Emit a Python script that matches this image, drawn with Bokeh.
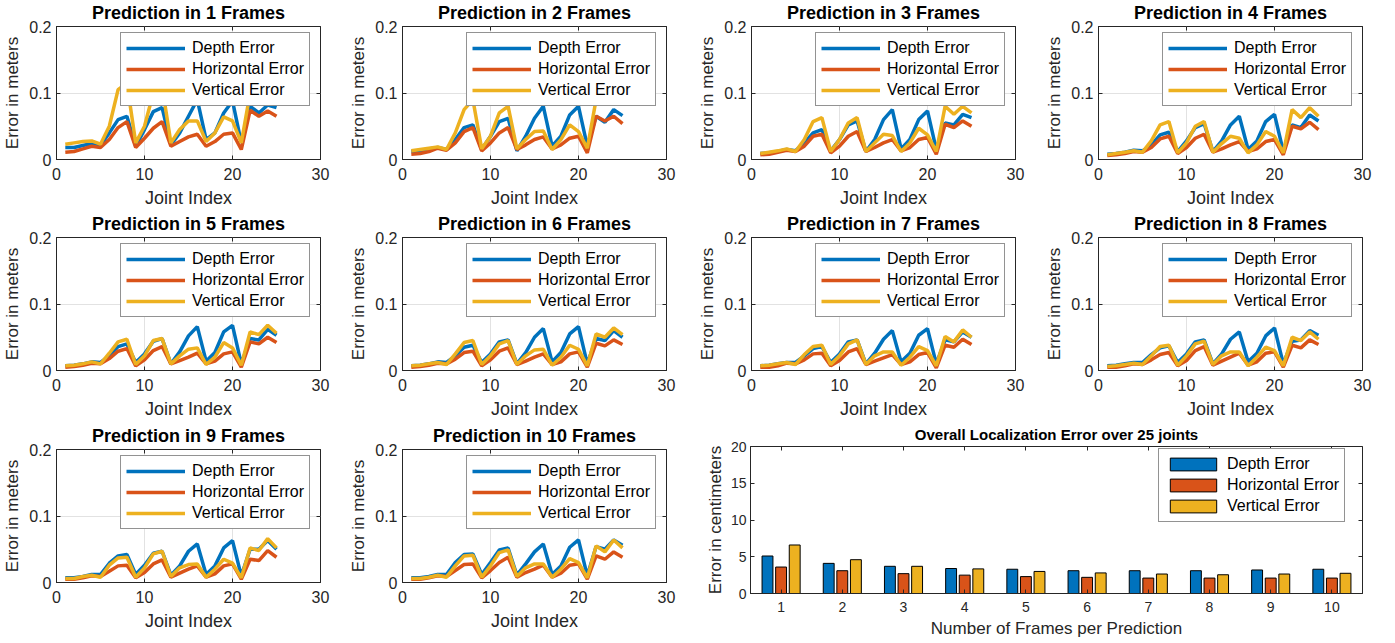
from bokeh.plotting import figure
from bokeh.layouts import row, column
from bokeh.models import (LinearAxis, FixedTicker, Legend, LegendItem, Range1d,
                          ColumnDataSource, CustomLabelingPolicy)
from bokeh.transform import dodge
from bokeh.embed import file_html
from bokeh.resources import INLINE

# ---------------- data ----------------
joints = list(range(1, 26))

depth_f1 = [0.018, 0.018, 0.021, 0.024, 0.021, 0.040, 0.060, 0.065, 0.020, 0.045, 0.072, 0.078, 0.022,
            0.040, 0.065, 0.090, 0.030, 0.040, 0.070, 0.088, 0.025, 0.080, 0.070, 0.082, 0.078]
horiz_f1 = [0.011, 0.012, 0.016, 0.020, 0.018, 0.030, 0.048, 0.057, 0.018, 0.032, 0.047, 0.057, 0.020,
            0.027, 0.034, 0.038, 0.020, 0.027, 0.038, 0.040, 0.015, 0.074, 0.065, 0.073, 0.065]
vert_f1 = [0.023, 0.025, 0.027, 0.028, 0.023, 0.050, 0.105, 0.115, 0.025, 0.050, 0.100, 0.110, 0.025,
           0.045, 0.058, 0.058, 0.027, 0.040, 0.064, 0.058, 0.025, 0.100, 0.090, 0.100, 0.090]

depth_f2 = [0.012, 0.013, 0.016, 0.018, 0.015, 0.030, 0.048, 0.052, 0.015, 0.035, 0.057, 0.062, 0.013,
            0.035, 0.062, 0.080, 0.020, 0.035, 0.067, 0.080, 0.020, 0.065, 0.056, 0.075, 0.066]
horiz_f2 = [0.008, 0.009, 0.012, 0.017, 0.014, 0.025, 0.042, 0.048, 0.013, 0.025, 0.040, 0.048, 0.015,
            0.022, 0.030, 0.034, 0.016, 0.022, 0.032, 0.035, 0.010, 0.065, 0.058, 0.065, 0.054]
vert_f2 = [0.013, 0.015, 0.017, 0.019, 0.015, 0.040, 0.075, 0.090, 0.016, 0.035, 0.070, 0.080, 0.016,
           0.030, 0.042, 0.043, 0.015, 0.030, 0.052, 0.042, 0.017, 0.090, 0.085, 0.090, 0.085]

depth_f3 = [0.009, 0.010, 0.012, 0.015, 0.013, 0.025, 0.040, 0.045, 0.013, 0.030, 0.052, 0.058, 0.012,
            0.030, 0.060, 0.075, 0.016, 0.030, 0.060, 0.073, 0.015, 0.055, 0.052, 0.068, 0.063]
horiz_f3 = [0.007, 0.008, 0.011, 0.014, 0.012, 0.020, 0.035, 0.038, 0.010, 0.020, 0.035, 0.042, 0.012,
            0.018, 0.025, 0.030, 0.013, 0.018, 0.030, 0.033, 0.008, 0.053, 0.048, 0.058, 0.050]
vert_f3 = [0.009, 0.011, 0.013, 0.016, 0.012, 0.030, 0.057, 0.063, 0.012, 0.030, 0.055, 0.063, 0.012,
           0.025, 0.038, 0.036, 0.012, 0.025, 0.047, 0.037, 0.012, 0.080, 0.068, 0.080, 0.070]

depth_f4 = [0.008, 0.009, 0.011, 0.014, 0.013, 0.022, 0.037, 0.041, 0.012, 0.028, 0.048, 0.054, 0.012,
            0.028, 0.052, 0.065, 0.015, 0.028, 0.057, 0.068, 0.012, 0.052, 0.048, 0.067, 0.058]
horiz_f4 = [0.006, 0.007, 0.009, 0.012, 0.011, 0.018, 0.031, 0.035, 0.009, 0.018, 0.032, 0.038, 0.011,
            0.016, 0.022, 0.027, 0.012, 0.016, 0.027, 0.030, 0.007, 0.050, 0.046, 0.056, 0.045]
vert_f4 = [0.007, 0.009, 0.011, 0.013, 0.011, 0.028, 0.052, 0.057, 0.010, 0.025, 0.050, 0.057, 0.011,
           0.024, 0.035, 0.032, 0.010, 0.022, 0.042, 0.035, 0.010, 0.075, 0.063, 0.078, 0.065]

depth_f5 = [0.007, 0.008, 0.010, 0.013, 0.012, 0.022, 0.036, 0.040, 0.012, 0.025, 0.044, 0.048, 0.010,
            0.028, 0.052, 0.066, 0.014, 0.027, 0.058, 0.068, 0.010, 0.048, 0.046, 0.062, 0.053]
horiz_f5 = [0.005, 0.006, 0.008, 0.011, 0.010, 0.018, 0.029, 0.033, 0.007, 0.016, 0.030, 0.036, 0.010,
            0.015, 0.020, 0.026, 0.010, 0.014, 0.025, 0.028, 0.005, 0.043, 0.040, 0.050, 0.042]
vert_f5 = [0.007, 0.008, 0.010, 0.013, 0.010, 0.026, 0.043, 0.047, 0.009, 0.022, 0.045, 0.048, 0.010,
           0.022, 0.032, 0.034, 0.009, 0.020, 0.042, 0.034, 0.008, 0.058, 0.054, 0.068, 0.056]

depth_f6 = [0.007, 0.008, 0.010, 0.013, 0.012, 0.022, 0.035, 0.038, 0.012, 0.025, 0.043, 0.046, 0.010,
            0.027, 0.050, 0.063, 0.013, 0.027, 0.055, 0.066, 0.010, 0.048, 0.045, 0.060, 0.050]
horiz_f6 = [0.005, 0.006, 0.008, 0.011, 0.010, 0.017, 0.027, 0.029, 0.007, 0.016, 0.029, 0.034, 0.009,
            0.014, 0.020, 0.025, 0.009, 0.013, 0.025, 0.028, 0.005, 0.041, 0.037, 0.046, 0.039]
vert_f6 = [0.007, 0.008, 0.010, 0.012, 0.009, 0.025, 0.042, 0.045, 0.009, 0.022, 0.040, 0.045, 0.009,
           0.022, 0.031, 0.032, 0.008, 0.020, 0.038, 0.032, 0.007, 0.055, 0.050, 0.064, 0.054]

depth_f7 = [0.007, 0.008, 0.010, 0.012, 0.012, 0.022, 0.033, 0.036, 0.012, 0.025, 0.043, 0.046, 0.010,
            0.026, 0.047, 0.060, 0.013, 0.026, 0.053, 0.063, 0.010, 0.046, 0.043, 0.058, 0.050]
horiz_f7 = [0.005, 0.005, 0.007, 0.011, 0.010, 0.016, 0.025, 0.026, 0.007, 0.015, 0.028, 0.033, 0.009,
            0.014, 0.019, 0.024, 0.009, 0.013, 0.024, 0.027, 0.004, 0.038, 0.035, 0.047, 0.039]
vert_f7 = [0.007, 0.008, 0.010, 0.012, 0.009, 0.024, 0.036, 0.038, 0.009, 0.022, 0.040, 0.046, 0.009,
           0.022, 0.028, 0.028, 0.008, 0.020, 0.036, 0.030, 0.007, 0.051, 0.043, 0.061, 0.050]

depth_f8 = [0.007, 0.008, 0.010, 0.012, 0.012, 0.024, 0.034, 0.037, 0.012, 0.025, 0.043, 0.046, 0.010,
            0.025, 0.047, 0.058, 0.013, 0.026, 0.052, 0.064, 0.010, 0.044, 0.046, 0.060, 0.053]
horiz_f8 = [0.005, 0.005, 0.007, 0.010, 0.009, 0.016, 0.024, 0.027, 0.007, 0.015, 0.030, 0.036, 0.008,
            0.014, 0.020, 0.026, 0.008, 0.013, 0.026, 0.028, 0.005, 0.038, 0.034, 0.046, 0.039]
vert_f8 = [0.006, 0.007, 0.009, 0.011, 0.009, 0.022, 0.036, 0.038, 0.008, 0.022, 0.040, 0.044, 0.009,
           0.022, 0.028, 0.028, 0.007, 0.020, 0.035, 0.030, 0.007, 0.050, 0.045, 0.058, 0.047]

depth_f9 = [0.007, 0.007, 0.009, 0.012, 0.012, 0.029, 0.040, 0.042, 0.012, 0.026, 0.044, 0.047, 0.011,
            0.025, 0.047, 0.058, 0.012, 0.025, 0.052, 0.063, 0.010, 0.050, 0.050, 0.063, 0.050]
horiz_f9 = [0.005, 0.005, 0.007, 0.010, 0.009, 0.017, 0.025, 0.026, 0.007, 0.015, 0.028, 0.034, 0.008,
            0.014, 0.020, 0.025, 0.008, 0.013, 0.025, 0.028, 0.005, 0.035, 0.033, 0.048, 0.038]
vert_f9 = [0.006, 0.006, 0.009, 0.011, 0.008, 0.026, 0.037, 0.038, 0.008, 0.022, 0.043, 0.047, 0.009,
           0.022, 0.027, 0.028, 0.008, 0.020, 0.035, 0.029, 0.007, 0.052, 0.048, 0.066, 0.052]

depth_f10 = [0.007, 0.007, 0.009, 0.012, 0.012, 0.030, 0.042, 0.043, 0.012, 0.030, 0.049, 0.052, 0.011,
             0.028, 0.046, 0.058, 0.012, 0.025, 0.053, 0.064, 0.010, 0.054, 0.050, 0.064, 0.056]
horiz_f10 = [0.005, 0.005, 0.007, 0.010, 0.009, 0.018, 0.027, 0.028, 0.007, 0.018, 0.030, 0.038, 0.008,
             0.015, 0.020, 0.026, 0.008, 0.014, 0.026, 0.028, 0.005, 0.040, 0.035, 0.046, 0.038]
vert_f10 = [0.006, 0.006, 0.008, 0.011, 0.008, 0.025, 0.040, 0.041, 0.008, 0.025, 0.045, 0.049, 0.009,
            0.022, 0.028, 0.028, 0.008, 0.020, 0.036, 0.030, 0.007, 0.055, 0.046, 0.064, 0.052]

frames_per_prediction = [1, 2, 3, 4, 5, 6, 7, 8, 9, 10]
overall_depth_cm = [5.1, 4.1, 3.7, 3.4, 3.3, 3.1, 3.1, 3.1, 3.2, 3.3]
overall_horiz_cm = [3.6, 3.1, 2.7, 2.5, 2.3, 2.2, 2.1, 2.1, 2.1, 2.1]
overall_vert_cm = [6.6, 4.6, 3.7, 3.35, 3.0, 2.8, 2.65, 2.55, 2.65, 2.75]

series_labels = ["Depth Error", "Horizontal Error", "Vertical Error"]
x_ticks = [0, 10, 20, 30]
y_ticks = [0, 0.1, 0.2]
bar_y_ticks = [0, 5, 10, 15, 20]

# ---------------- style ----------------
COLORS = ["#0072BD", "#D95319", "#EDB120"]
FONT = "Liberation Sans"
AX = "#262626"

per_frame = [
    (depth_f1, horiz_f1, vert_f1), (depth_f2, horiz_f2, vert_f2), (depth_f3, horiz_f3, vert_f3),
    (depth_f4, horiz_f4, vert_f4), (depth_f5, horiz_f5, vert_f5), (depth_f6, horiz_f6, vert_f6),
    (depth_f7, horiz_f7, vert_f7), (depth_f8, horiz_f8, vert_f8), (depth_f9, horiz_f9, vert_f9),
    (depth_f10, horiz_f10, vert_f10),
]

FRAME_W, FRAME_H = 265, 133
# column geometry: (left border, right border)
COLS = [(55, 26), (55, 29), (55, 27), (55, 30)]
# row geometry: (top border, bottom border)
ROWS = [(26, 52), (26, 53), (26, 59)]


def style_axis(ax, tick_size, standoff, label, label_size, label_standoff):
    ax.major_tick_in = 4
    ax.major_tick_out = 0
    ax.minor_tick_in = 0
    ax.minor_tick_out = 0
    ax.axis_line_color = AX
    ax.major_tick_line_color = AX
    ax.major_label_text_font = FONT
    ax.major_label_text_font_size = tick_size
    ax.major_label_text_color = AX
    ax.major_label_text_line_height = 1.0
    ax.major_label_standoff = standoff
    ax.axis_label = label
    ax.axis_label_text_font = FONT
    ax.axis_label_text_font_size = label_size
    ax.axis_label_text_font_style = "normal"
    ax.axis_label_text_color = AX
    ax.axis_label_text_line_height = 1.0
    ax.axis_label_standoff = label_standoff


def mirror_axes(p, xt, yt):
    for ticks, side in ((yt, "right"), (xt, "above")):
        ax = LinearAxis(ticker=FixedTicker(ticks=ticks), major_label_text_font_size="1px",
                        major_label_policy=CustomLabelingPolicy(code="return []"),
                        major_tick_in=4, major_tick_out=0, minor_tick_in=0, minor_tick_out=0,
                        axis_line_color=None, major_tick_line_color=AX,
                        major_label_standoff=0, axis_label_standoff=0)
        p.add_layout(ax, side)


def style_title(p, size):
    p.title.text_font = FONT
    p.title.text_font_size = size
    p.title.text_font_style = "bold"
    p.title.text_color = "black"
    p.title.align = "center"
    p.title.standoff = 0


def style_legend(lg, glyph_w, glyph_h, standoff):
    lg.label_text_font = FONT
    lg.label_text_font_size = "16px"
    lg.label_text_color = "#000000"
    lg.glyph_width = glyph_w
    lg.glyph_height = glyph_h
    lg.label_height = 20
    lg.label_standoff = standoff
    lg.spacing = 1
    lg.padding = 5
    lg.margin = 0
    lg.border_line_color = AX
    lg.border_line_width = 1
    lg.background_fill_color = "white"
    lg.background_fill_alpha = 1.0


def line_panel(k, data, col, rw):
    bl, br = col
    bt, bb = rw
    p = figure(width=bl + FRAME_W + br, height=bt + FRAME_H + bb,
               x_range=Range1d(0, 30), y_range=Range1d(0, 0.2),
               output_backend="svg", toolbar_location=None,
               min_border_left=bl, min_border_right=br, min_border_top=bt, min_border_bottom=bb,
               title=f"Prediction in {k} Frames")
    style_title(p, "18px")
    p.outline_line_color = AX
    p.outline_line_width = 1
    p.background_fill_color = "white"
    p.border_fill_color = "white"

    xt = FixedTicker(ticks=x_ticks)
    yt = FixedTicker(ticks=y_ticks)
    p.xaxis[0].ticker = xt
    p.yaxis[0].ticker = yt
    p.xgrid[0].ticker = xt
    p.ygrid[0].ticker = yt
    p.yaxis[0].major_label_overrides = {0: "0", 0.1: "0.1", 0.2: "0.2"}
    style_axis(p.xaxis[0], "16px", 8, "Joint Index", "18px", 5)
    style_axis(p.yaxis[0], "16px", 5, "Error in meters", "17px", 4)
    p.grid.grid_line_color = "#e2e2e2"
    p.grid.grid_line_width = 1
    mirror_axes(p, x_ticks, y_ticks)

    items = []
    for vals, c, lab in zip(data, COLORS, series_labels):
        r = p.line(joints, vals, line_color=c, line_width=3.5)
        items.append(LegendItem(label=lab, renderers=[r]))
    legend_h = 2 * 5 + 3 * 20 + 2 * 1
    lg = Legend(items=items, location=(64, FRAME_H - 8 - legend_h))
    style_legend(lg, 59, 20, 7)
    p.add_layout(lg)
    return p


panels = []
for i, data in enumerate(per_frame):
    r_i, c_i = divmod(i, 4)
    panels.append(line_panel(i + 1, data, COLS[c_i], ROWS[r_i]))

# ---------------- bar panel ----------------
BAR_FRAME_W, BAR_FRAME_H = 612, 147
BAR_L, BAR_R, BAR_T, BAR_B = 55, 30, 23, 48
pb = figure(width=BAR_L + BAR_FRAME_W + BAR_R, height=BAR_T + BAR_FRAME_H + BAR_B,
            x_range=Range1d(0.5, 10.5), y_range=Range1d(0, 20),
            output_backend="svg", toolbar_location=None,
            min_border_left=BAR_L, min_border_right=BAR_R, min_border_top=BAR_T,
            min_border_bottom=BAR_B,
            title="Overall Localization Error over 25 joints")
style_title(pb, "15px")
pb.outline_line_color = AX
pb.outline_line_width = 1
pb.xgrid.visible = False
pb.ygrid.visible = False
pb.xaxis[0].ticker = FixedTicker(ticks=frames_per_prediction)
pb.yaxis[0].ticker = FixedTicker(ticks=bar_y_ticks)
style_axis(pb.xaxis[0], "14px", 8, "Number of Frames per Prediction", "17px", 4)
style_axis(pb.yaxis[0], "14px", 4, "Error in centimeters", "17px", 3)
mirror_axes(pb, frames_per_prediction, bar_y_ticks)

src = ColumnDataSource(dict(frames=frames_per_prediction, depth=overall_depth_cm,
                            horiz=overall_horiz_cm, vert=overall_vert_cm))
offsets = [-0.2222, 0.0, 0.2222]
bar_items = []
for col_name, off, c, lab in zip(["depth", "horiz", "vert"], offsets, COLORS, series_labels):
    r = pb.vbar(x=dodge("frames", off), top=col_name, width=0.178, bottom=0, source=src,
                fill_color=c, line_color="#000000", line_width=1)
    bar_items.append(LegendItem(label=lab, renderers=[r]))
bar_leg_h = 2 * 5 + 3 * 20 + 2 * 1
blg = Legend(items=bar_items, location=(408, BAR_FRAME_H - 4 - bar_leg_h))
style_legend(blg, 58, 16, 5)
pb.add_layout(blg)

layout = column(
    row(*panels[0:4]),
    row(*panels[4:8]),
    row(row(panels[8], panels[9]), column(pb)),
)

open("out.html", "w").write(file_html(layout, INLINE))
